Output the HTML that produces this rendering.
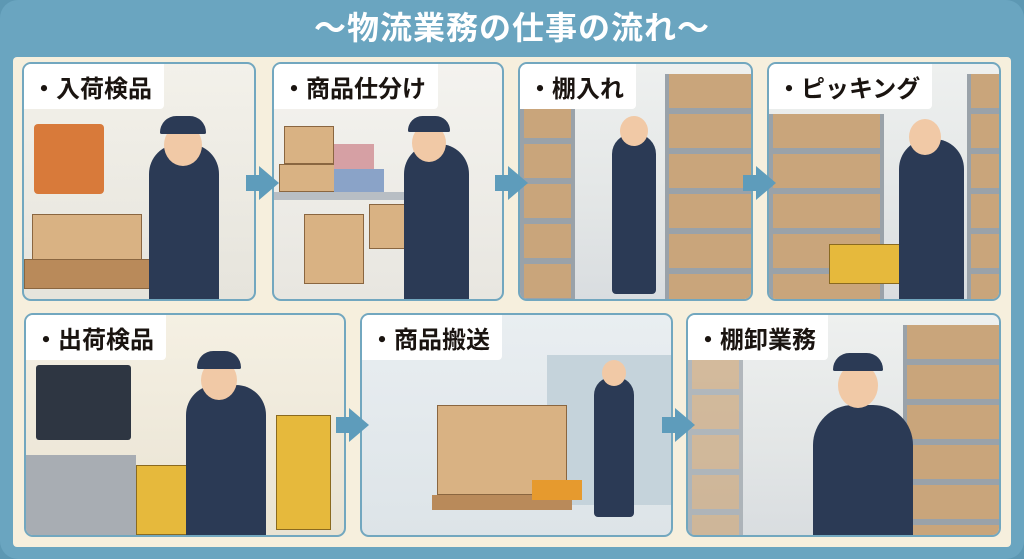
<!DOCTYPE html><html><head><meta charset="utf-8"><style>
*{margin:0;padding:0;box-sizing:border-box}
body{width:1024px;height:559px;overflow:hidden;background:#5d98b3;font-family:"Liberation Sans","Noto Sans CJK JP",sans-serif;position:relative}
.frame{position:absolute;left:0;top:0;width:1024px;height:559px;border-radius:18px;background:#6aa5c0}
.title{position:absolute;left:0;right:0;top:3px;text-align:center;color:#fff;font-weight:bold;font-size:32px;letter-spacing:1px}
.cream{position:absolute;left:13px;top:57px;width:998px;height:490px;background:#f6efdd;border-radius:4px}
.p{position:absolute;border:2.5px solid #72a7bf;border-radius:9px;overflow:hidden;background:linear-gradient(#eef0ef,#e3e6e6 60%,#d9dde0)}
.lab{position:absolute;left:0;top:0;background:#fff;padding:5px 12px 5px 8px;font-weight:bold;font-size:24px;color:#1a1410;border-bottom-right-radius:4px;z-index:3}
.s{position:absolute}
.box{position:absolute;background:#d9b283;border:1.5px solid #8a6640}
.nv{position:absolute;background:#2b3a55}
.rack{position:absolute;background:repeating-linear-gradient(#c9a57b 0 34px,#9aa2a9 34px 40px);border-left:4px solid #9aa2a9;border-right:4px solid #9aa2a9}
.arr{position:absolute;width:0;height:0;border-top:17px solid transparent;border-bottom:17px solid transparent;border-left:20px solid #5e9cbb}
.arrs{position:absolute;width:14px;height:16px;background:#5e9cbb}
</style></head><body>
<div class="frame"></div>
<div class="title">～物流業務の仕事の流れ～</div>
<div class="cream"></div>

<div class="p" style="left:22px;top:62px;width:234px;height:239px;background:linear-gradient(#f3f1ea,#e6e4dc)">
 <div class="lab">・入荷検品</div>
 <div class="s" style="left:10px;top:60px;width:70px;height:70px;background:#d87a3a;border-radius:4px"></div>
 <div class="box" style="left:8px;top:150px;width:110px;height:50px"></div>
 <div class="box" style="left:0;top:195px;width:130px;height:30px;background:#b98a5a"></div>
 <div class="nv" style="left:125px;top:80px;width:70px;height:160px;border-radius:30px 30px 4px 4px"></div>
 <div class="s" style="left:140px;top:60px;width:38px;height:42px;background:#f1c9a6;border-radius:50%"></div>
 <div class="nv" style="left:136px;top:52px;width:46px;height:18px;border-radius:20px 20px 2px 2px"></div>
</div>
<div class="p" style="left:272px;top:62px;width:232px;height:239px;background:linear-gradient(#f4f3ef,#e8e6e0)">
 <div class="lab">・商品仕分け</div>
 <div class="box" style="left:10px;top:62px;width:50px;height:38px"></div>
 <div class="box" style="left:5px;top:100px;width:65px;height:28px"></div>
 <div class="s" style="left:60px;top:80px;width:40px;height:25px;background:#d6a0a4"></div>
 <div class="s" style="left:60px;top:105px;width:50px;height:23px;background:#8aa3c8"></div>
 <div class="s" style="left:0;top:128px;width:150px;height:8px;background:#b8bec4"></div>
 <div class="box" style="left:30px;top:150px;width:60px;height:70px"></div>
 <div class="box" style="left:95px;top:140px;width:60px;height:45px"></div>
 <div class="nv" style="left:130px;top:80px;width:65px;height:160px;border-radius:30px 30px 4px 4px"></div>
 <div class="s" style="left:138px;top:60px;width:34px;height:38px;background:#f1c9a6;border-radius:50%"></div>
 <div class="nv" style="left:134px;top:52px;width:42px;height:16px;border-radius:20px 20px 2px 2px"></div>
</div>
<div class="p" style="left:518px;top:62px;width:235px;height:239px">
 <div class="lab">・棚入れ</div>
 <div class="rack" style="left:0;top:40px;width:55px;height:200px"></div>
 <div class="rack" style="left:145px;top:10px;width:90px;height:230px"></div>
 <div class="nv" style="left:92px;top:70px;width:44px;height:160px;border-radius:20px 20px 4px 4px"></div>
 <div class="s" style="left:100px;top:52px;width:28px;height:30px;background:#f1c9a6;border-radius:50%"></div>
</div>
<div class="p" style="left:767px;top:62px;width:234px;height:239px">
 <div class="lab">・ピッキング</div>
 <div class="rack" style="left:0;top:50px;width:115px;height:190px"></div>
 <div class="rack" style="left:198px;top:10px;width:36px;height:230px"></div>
 <div class="s" style="left:60px;top:180px;width:80px;height:40px;background:#e6b93c;border:1.5px solid #8a6a20"></div>
 <div class="nv" style="left:130px;top:75px;width:65px;height:165px;border-radius:30px 30px 4px 4px"></div>
 <div class="s" style="left:140px;top:55px;width:32px;height:36px;background:#f1c9a6;border-radius:50%"></div>
</div>

<div class="p" style="left:24px;top:313px;width:322px;height:224px;background:linear-gradient(#f5f0e3,#e9e3d3)">
 <div class="lab">・出荷検品</div>
 <div class="s" style="left:10px;top:50px;width:95px;height:75px;background:#2e3642;border-radius:3px"></div>
 <div class="s" style="left:0;top:140px;width:110px;height:85px;background:#a8adb3"></div>
 <div class="s" style="left:110px;top:150px;width:110px;height:70px;background:#e6b93c;border:1.5px solid #8a6a20"></div>
 <div class="s" style="left:250px;top:100px;width:55px;height:115px;background:#e6b93c;border:1.5px solid #8a6a20"></div>
 <div class="nv" style="left:160px;top:70px;width:80px;height:155px;border-radius:30px 30px 4px 4px"></div>
 <div class="s" style="left:175px;top:45px;width:36px;height:40px;background:#f1c9a6;border-radius:50%"></div>
 <div class="nv" style="left:171px;top:36px;width:44px;height:18px;border-radius:20px 20px 2px 2px"></div>
</div>
<div class="p" style="left:360px;top:313px;width:313px;height:224px;background:linear-gradient(#e9eef1,#dde4e8)">
 <div class="lab">・商品搬送</div>
 <div class="s" style="left:185px;top:40px;width:125px;height:150px;background:#c5d3db"></div>
 <div class="box" style="left:75px;top:90px;width:130px;height:90px"></div>
 <div class="s" style="left:70px;top:180px;width:140px;height:15px;background:#b98a5a"></div>
 <div class="s" style="left:170px;top:165px;width:50px;height:20px;background:#e69a2e"></div>
 <div class="nv" style="left:232px;top:62px;width:40px;height:140px;border-radius:18px 18px 4px 4px"></div>
 <div class="s" style="left:240px;top:45px;width:24px;height:26px;background:#f1c9a6;border-radius:50%"></div>
</div>
<div class="p" style="left:686px;top:313px;width:315px;height:224px">
 <div class="lab">・棚卸業務</div>
 <div class="rack" style="left:0;top:40px;width:55px;height:184px;opacity:.7"></div>
 <div class="rack" style="left:215px;top:10px;width:100px;height:214px"></div>
 <div class="nv" style="left:125px;top:90px;width:100px;height:134px;border-radius:40px 40px 4px 4px"></div>
 <div class="s" style="left:150px;top:48px;width:40px;height:45px;background:#f1c9a6;border-radius:50%"></div>
 <div class="nv" style="left:145px;top:38px;width:50px;height:18px;border-radius:20px 20px 2px 2px"></div>
</div>

<div class="arrs" style="left:246px;top:175px"></div><div class="arr" style="left:259px;top:166px"></div>
<div class="arrs" style="left:495px;top:175px"></div><div class="arr" style="left:508px;top:166px"></div>
<div class="arrs" style="left:743px;top:175px"></div><div class="arr" style="left:756px;top:166px"></div>
<div class="arrs" style="left:336px;top:417px"></div><div class="arr" style="left:349px;top:408px"></div>
<div class="arrs" style="left:662px;top:417px"></div><div class="arr" style="left:675px;top:408px"></div>
</body></html>
